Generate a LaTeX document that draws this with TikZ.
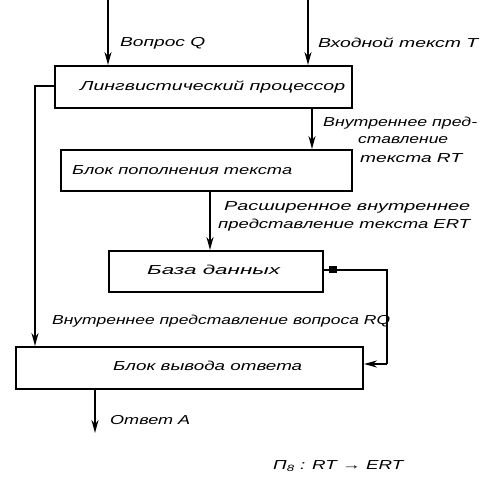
\documentclass[tikz,border=0pt]{standalone}
\usepackage{fontspec}
\usepackage{graphicx}
\setmainfont{Liberation Sans}
\usetikzlibrary{arrows.meta}
\newcommand{\fw}[2]{\resizebox{#1pt}{\height}{#2}}
\begin{document}
\begin{tikzpicture}[x=1pt,y=-1pt,
  blk/.style={draw,line width=2pt,inner sep=0pt},
  lbl/.style={font=\itshape\fontsize{13}{14}\selectfont,inner sep=0pt,anchor=west},
  btxt/.style={font=\itshape\fontsize{13}{14}\selectfont,inner sep=0pt},
  conn/.style={line width=1.7pt},
  arr/.style={conn,-{Stealth[length=13pt,width=7pt]}}]
\useasboundingbox (0,0) rectangle (489,481);
% boxes
\node[blk,minimum width=297pt,minimum height=42pt] (lp) at (203.5,87) {};
\node[btxt,anchor=west] (lpt) at (80,87) {\fw{265}{Лингвистический процессор}};
\node[blk,minimum width=291pt,minimum height=41pt] (bp) at (206.5,170.5) {};
\node[btxt,anchor=west] (bpt) at (72,170) {\fw{220}{Блок пополнения текста}};
\node[blk,minimum width=214pt,minimum height=41pt] (db) at (216,271.5) {};
\node[btxt,anchor=west] (dbt) at (147,270) {\fw{133}{База данных}};
\node[blk,minimum width=347pt,minimum height=42pt] (bv) at (189.5,368) {};
\node[btxt,anchor=west] (bvt) at (113,366) {\fw{189}{Блок вывода ответа}};
% inputs
\coordinate (q0) at (108,0);
\coordinate (t0) at (308,0);
\draw[arr] (q0) -- (q0 |- lp.north);
\draw[arr] (t0) -- (t0 |- lp.north);
\node[lbl] (ql) at (120,43) {\fw{85}{Вопрос Q}};
\node[lbl] (tl) at (318,43) {\fw{160}{Входной текст T}};
% lp -> bp
\coordinate (rt) at (312,0);
\draw[arr] (rt |- lp.south) -- (rt |- bp.north);
\node[lbl] (rtl1) at (323,123) {\fw{154}{Внутреннее пред-}};
\node[lbl] (rtl2) at (358,140) {\fw{90}{ставление}};
\node[lbl] (rtl3) at (360,158) {\fw{102}{текста RT}};
% bp -> db
\coordinate (ert) at (210,0);
\draw[arr] (ert |- bp.south) -- (ert |- db.north);
\node[lbl] (el1) at (224,207) {\fw{246}{Расширенное внутреннее}};
\node[lbl] (el2) at (218,225) {\fw{252}{представление текста ERT}};
% left line
\coordinate (lc) at (35,86);
\draw[arr] (lp.west |- lc) -- (lc) -- (lc |- bv.north);
\node[lbl] (rql) at (52,321) {\fw{338}{Внутреннее представление вопроса RQ}};
% db -> bv
\coordinate (rc1) at (387,270);
\coordinate (rc2) at (387,364);
\fill (329,266) rectangle (337,273);
\draw[conn] (db.east |- rc1) -- (rc1) -- (rc2);
\draw[arr] (rc2) -- (bv.east |- rc2);
% output
\coordinate (oa) at (95,433);
\draw[arr] (oa |- bv.south) -- (oa);
\node[lbl] (al) at (110,420) {\fw{80}{Ответ A}};
\node[lbl] (form) at (273,466) {\fw{130}{П\textsubscript{8} : RT → ERT}};
\end{tikzpicture}
\end{document}
